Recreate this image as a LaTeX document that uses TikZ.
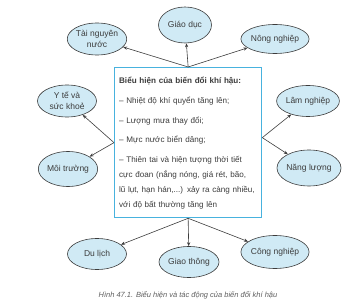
\documentclass[tikz,border=0pt]{standalone}
\usepackage{fontspec}
\setmainfont{Liberation Sans}
\usetikzlibrary{arrows.meta,shapes.geometric}
\definecolor{skyline}{RGB}{72,178,222}
\definecolor{bubblefill}{RGB}{208,234,245}
\definecolor{inkgray}{RGB}{60,60,60}
\definecolor{capgray}{RGB}{95,95,95}

\begin{document}
\begin{tikzpicture}[x=1pt,y=-1pt,
    bubble/.style={ellipse,draw=inkgray,line width=0.6pt,fill=bubblefill,align=center,inner sep=0pt,
      font=\fontsize{8.5}{11}\selectfont,text=inkgray},
    link/.style={draw=inkgray,line width=0.6pt,-{Stealth[length=4pt,width=3.2pt]}}]
        \useasboundingbox (0,0) rectangle (356,307);
        \node[draw=skyline,line width=1.3pt,fill=white,anchor=north west,text width=138pt,minimum height=150pt,
          inner sep=4.5pt,align=left,font=\fontsize{8.1}{15}\selectfont,text=inkgray] (bieuhien) at (114,67)
          {\textbf{Biểu hiện của biến đổi khí hậu:}\\[5pt]
           -- Nhiệt độ khí quyển tăng lên;\\[5pt]
           -- Lượng mưa thay đổi;\\[4pt]
           -- Mực nước biển dâng;\\[5pt]
           -- Thiên tai và hiện tượng thời tiết\\
           cực đoan (nắng nóng, giá rét, bão,\\
           \mbox{lũ lụt, hạn hán,...) xảy ra càng nhiều,}\\
           với độ bất thường tăng lên};
        \foreach \name/\x/\y/\w/\h/\lab in {tainguyen/97/39/59/32/{Tài nguyên\\nước},giaoduc/185/25/53/36/Giáo dục,
            nongnghiep/275/39/58/29/Nông nghiệp,yte/67/101/59/32/{Y tế và\\sức khoẻ},moitruong/68/169/58/35/Môi trường,
            lamnghiep/308/101/60/31/Lâm nghiệp,nangluong/309/168/60/36/Năng lượng,dulich/97/254/59/31/Du lịch,
            giaothong/189/262/60/31/Giao thông,congnghiep/275/252/59/33/Công nghiệp}
          \node[bubble,minimum width=\w pt,minimum height=\h pt] (\name) at (\x,\y) {\lab};
        \coordinate (topjoin) at (bieuhien.north);
        \coordinate (botjoin) at (bieuhien.south);
        \coordinate (leftjoin) at (bieuhien.west);
        \coordinate (rightjoin) at ([yshift=5pt]bieuhien.east);
        \foreach \t in {tainguyen,giaoduc,nongnghiep} \draw[link] (topjoin) -- (\t);
        \foreach \t in {yte,moitruong} \draw[link] (leftjoin) -- (\t);
        \foreach \t in {lamnghiep,nangluong} \draw[link] (rightjoin) -- (\t);
        \foreach \t in {dulich,giaothong,congnghiep} \draw[link] (botjoin) -- (\t);
        \node[font=\fontsize{7.5}{9}\selectfont\itshape,text=capgray] (hinh) at (188,295)
          {Hình 47.1. Biểu hiện và tác động của biến đổi khí hậu};
      \end{tikzpicture}
\end{document}
